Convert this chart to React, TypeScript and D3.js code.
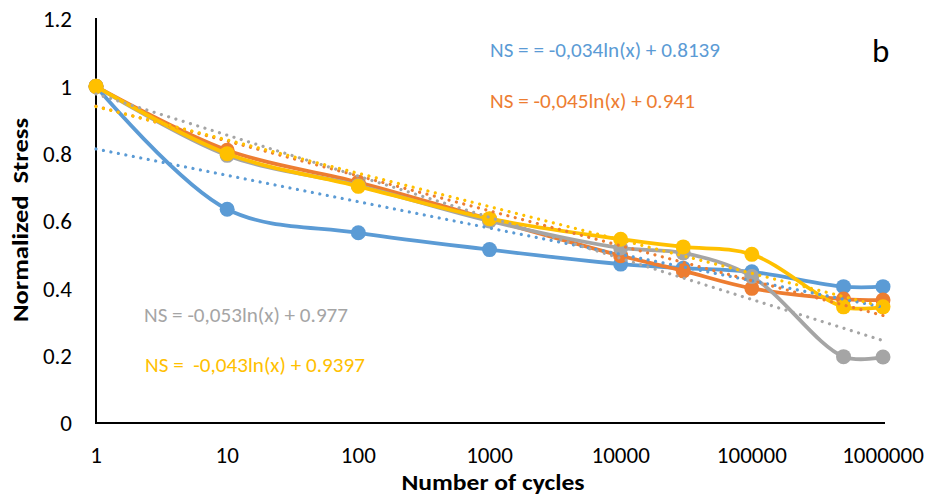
import React from 'react';
import * as d3 from 'd3';

const cycles = [1, 10, 100, 1000, 10000, 30000, 100000, 500000, 1000000];
const blueValues = [1, 0.635, 0.565, 0.515, 0.472, 0.46, 0.449, 0.405, 0.405];
const orangeValues = [1, 0.81, 0.715, 0.605, 0.497, 0.452, 0.4, 0.368, 0.365];
const greyValues = [1, 0.795, 0.705, 0.6, 0.52, 0.505, 0.435, 0.197, 0.196];
const yellowValues = [1, 0.8, 0.703, 0.607, 0.546, 0.523, 0.501, 0.345, 0.345];

const seriesColors = ['#5B9BD5', '#ED7D31', '#A5A5A5', '#FFC000'];
const trendSlopes = [-0.034, -0.045, -0.053, -0.043];
const trendIntercepts = [0.8139, 0.941, 0.977, 0.9397];
const equationLabels = [
  'NS = = -0,034ln(x) + 0.8139',
  'NS = -0,045ln(x) + 0.941',
  'NS = -0,053ln(x) + 0.977',
  'NS =  -0,043ln(x) + 0.9397',
];
const equationPos = [
  [490, 57, 230],
  [490, 108, 205],
  [144, 322, 204],
  [145, 372, 220],
];

const xTicks = [1, 10, 100, 1000, 10000, 100000, 1000000];
const yTicks = [0, 0.2, 0.4, 0.6, 0.8, 1, 1.2];
const xTitle = 'Number of cycles';
const yTitle = 'Normalized  Stress';
const panelLabel = 'b';

const W = 932;
const H = 502;
const FONT = 'Carlito, Calibri, Lato, sans-serif';

export default function App() {
  const x = d3.scaleLog().domain([1, 1000000]).range([96, 883]);
  const y = d3.scaleLinear().domain([0, 1.2]).range([423, 19]);
  const series = [blueValues, orangeValues, greyValues, yellowValues];

  const line = d3
    .line<number>()
    .x((_, i) => x(cycles[i]))
    .y((d) => y(d))
    .curve(d3.curveCatmullRom.alpha(0.5));

  const trendX = d3.range(0, 6.0001, 0.05).map((e) => Math.pow(10, e));
  const trendLine = (k: number) =>
    d3
      .line<number>()
      .x((t) => x(t))
      .y((t) => y(trendSlopes[k] * Math.log(t) + trendIntercepts[k]))(trendX);

  return (
    <svg
      width={W}
      height={H}
      style={{ position: 'absolute', left: 0, top: 0, background: '#fff' }}
      fontFamily={FONT}
    >
      <rect x={0} y={0} width={W} height={H} fill="#fff" />
      {/* axes */}
      <line x1={96} x2={96} y1={18} y2={424} stroke="#000" strokeWidth={2} />
      <line x1={95} x2={885} y1={423} y2={423} stroke="#000" strokeWidth={2} />
      {yTicks.map((t) => (
        <text key={t} x={72} y={y(t)} dy="0.36em" textAnchor="end" fontSize={23} fill="#000">
          {String(t)}
        </text>
      ))}
      {xTicks.map((t) => (
        <text key={t} x={x(t)} y={463} textAnchor="middle" fontSize={23} fill="#000">
          {String(t)}
        </text>
      ))}
      <text
        x={493}
        y={490}
        textAnchor="middle"
        fontSize={23}
        fontWeight="bold"
        fill="#000"
        textLength={183}
        lengthAdjust="spacingAndGlyphs"
      >
        {xTitle}
      </text>
      <text
        transform="translate(28,220) rotate(-90)"
        textAnchor="middle"
        fontSize={23}
        fontWeight="bold"
        fill="#000"
        textLength={204}
        lengthAdjust="spacingAndGlyphs"
        style={{ whiteSpace: 'pre' }}
      >
        {yTitle}
      </text>
      {/* series */}
      {series.map((vals, k) => (
        <g key={k}>
          <path d={line(vals) || ''} fill="none" stroke={seriesColors[k]} strokeWidth={3.8} strokeLinecap="round" />
          {vals.map((v, i) => (
            <circle key={i} cx={x(cycles[i])} cy={y(v)} r={7.5} fill={seriesColors[k]} />
          ))}
        </g>
      ))}
      {/* trendlines */}
      {series.map((_, k) => (
        <path
          key={'t' + k}
          d={trendLine(k) || ''}
          fill="none"
          stroke={seriesColors[k]}
          strokeWidth={3.2}
          strokeLinecap="round"
          strokeDasharray="0.01 7.6"
        />
      ))}
      {/* equations */}
      {equationLabels.map((s, k) => (
        <text
          key={'e' + k}
          x={equationPos[k][0]}
          y={equationPos[k][1]}
          fontSize={20}
          fill={seriesColors[k]}
          textLength={equationPos[k][2]}
          lengthAdjust="spacingAndGlyphs"
          style={{ whiteSpace: 'pre' }}
        >
          {s}
        </text>
      ))}
      <text x={872} y={62} fontSize={33} fill="#000">
        {panelLabel}
      </text>
    </svg>
  );
}
